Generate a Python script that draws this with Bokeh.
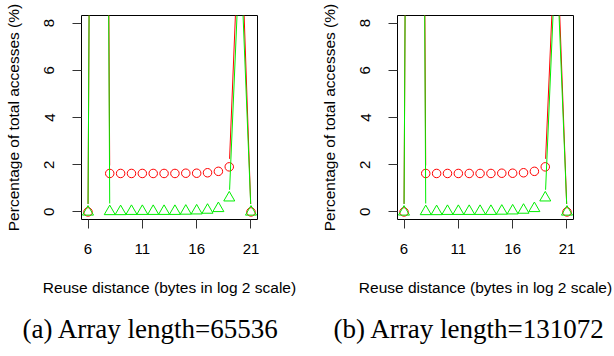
import math
from bokeh.plotting import figure
from bokeh.layouts import row
from bokeh.models import Range1d, FixedTicker, Title
from bokeh.embed import file_html
from bokeh.resources import INLINE

# ---- data ----
reuse_distance = list(range(6, 22))
red_a = [0.0, 85.0, 1.63, 1.63, 1.63, 1.63, 1.63, 1.63, 1.63, 1.64, 1.64, 1.66, 1.72, 1.91, 13.2, 0.0]
green_a = [0.0, 85.0, 0.02, 0.02, 0.03, 0.03, 0.03, 0.03, 0.03, 0.04, 0.05, 0.08, 0.15, 0.60, 11.4, 0.0]
red_b = [0.0, 85.0, 1.63, 1.63, 1.63, 1.63, 1.63, 1.63, 1.63, 1.64, 1.64, 1.66, 1.72, 1.91, 12.5, 0.0]
green_b = [0.0, 85.0, 0.02, 0.02, 0.03, 0.03, 0.03, 0.03, 0.03, 0.04, 0.05, 0.08, 0.15, 0.60, 11.4, 0.0]
x_ticks = [6, 11, 16, 21]
y_ticks = [0, 2, 4, 6, 8]
captions = ["(a) Array length=65536", "(b) Array length=131072"]
x_label = "Reuse distance (bytes in log 2 scale)"
y_label = "Percentage of total accesses (%)"

RED = "#FF0000"
GREEN = "#00EE00"
SANS = "Liberation Sans"

FRAME_W, FRAME_H = 176, 204
X0, X1 = 5.4, 21.6
Y0, Y1 = -0.32, 8.32
KX = FRAME_W / (X1 - X0)
KY = FRAME_H / (Y1 - Y0)
GAP = 8.0


def gapped_segments(xs, ys):
    """R type='b' style: line segments that stop short of each point."""
    x0s, y0s, x1s, y1s = [], [], [], []
    for i in range(len(xs) - 1):
        dx = (xs[i + 1] - xs[i]) * KX
        dy = (ys[i + 1] - ys[i]) * KY
        L = math.hypot(dx, dy)
        if L <= 2 * GAP:
            continue
        f = GAP / L
        x0s.append(xs[i] + f * (xs[i + 1] - xs[i]))
        y0s.append(ys[i] + f * (ys[i + 1] - ys[i]))
        x1s.append(xs[i + 1] - f * (xs[i + 1] - xs[i]))
        y1s.append(ys[i + 1] - f * (ys[i + 1] - ys[i]))
    return x0s, y0s, x1s, y1s


def make_panel(red, green, caption, left, right, cap_offset):
    p = figure(frame_width=FRAME_W, frame_height=FRAME_H,
               output_backend="svg", toolbar_location=None,
               x_range=Range1d(X0, X1), y_range=Range1d(Y0, Y1),
               min_border_left=left, min_border_right=right,
               min_border_top=15, min_border_bottom=0)
    p.xgrid.visible = False
    p.ygrid.visible = False
    p.outline_line_color = "black"
    p.outline_line_width = 1
    p.background_fill_color = "white"
    p.border_fill_color = "white"

    for ax in (p.xaxis[0], p.yaxis[0]):
        ax.axis_line_color = None
        ax.major_tick_in = 0
        ax.major_tick_out = 9
        ax.major_tick_line_color = "#333333"
        ax.minor_tick_line_color = None
        ax.major_label_text_font = SANS
        ax.major_label_text_font_size = "15px"
        ax.major_label_text_color = "black"
        ax.axis_label_text_font = SANS
        ax.axis_label_text_font_size = "15.5px"
        ax.axis_label_text_font_style = "normal"
        ax.axis_label_text_color = "black"

    p.xaxis.ticker = FixedTicker(ticks=x_ticks)
    p.yaxis.ticker = FixedTicker(ticks=y_ticks)
    p.xaxis.axis_label = x_label
    p.yaxis.axis_label = y_label
    p.yaxis.major_label_orientation = "vertical"
    p.xaxis.major_label_standoff = 15
    p.xaxis.axis_label_standoff = 22
    p.yaxis.major_label_standoff = 18
    p.yaxis.axis_label_standoff = 20

    rx0, ry0, rx1, ry1 = gapped_segments(reuse_distance, red)
    p.segment(rx0, ry0, rx1, ry1, line_color=RED, line_width=1)
    p.scatter(reuse_distance, red, marker="circle", size=8.5, fill_color=None,
              line_color=RED, line_width=1)
    gx0, gy0, gx1, gy1 = gapped_segments(reuse_distance, green)
    p.segment(gx0, gy0, gx1, gy1, line_color=GREEN, line_width=1)
    p.scatter(reuse_distance, green, marker="triangle", size=11, fill_color=None,
              line_color=GREEN, line_width=1)

    t = Title(text=caption, align="left", offset=cap_offset, standoff=26,
              text_font="Liberation Serif", text_font_size="27px",
              text_font_style="normal", text_color="black")
    p.add_layout(t, "below")
    return p


pa = make_panel(red_a, green_a, captions[0], 81, 54, -59)
pb = make_panel(red_b, green_b, captions[1], 86, 41, -64)
layout = row(pa, pb)

open("out.html", "w").write(file_html(layout, INLINE))
